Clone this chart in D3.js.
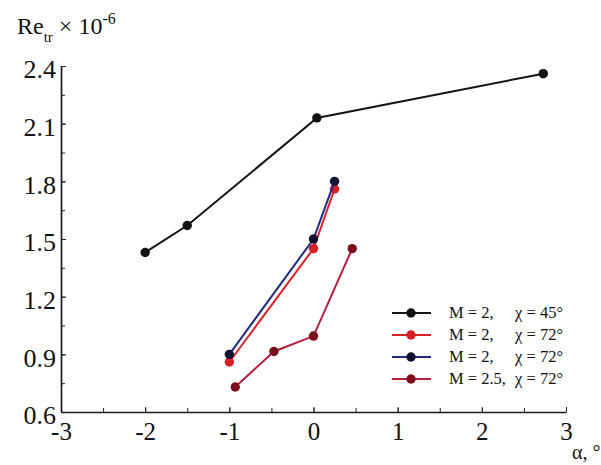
<!DOCTYPE html>
<html>
<head>
<meta charset="utf-8">
<script src="https://cdn.jsdelivr.net/npm/d3@7"></script>
<style>
  body { margin: 0; background: #fff; }
  svg text { font-family: "Liberation Serif", "Times New Roman", serif; }
</style>
</head>
<body>
<svg id="chart" width="601" height="465"></svg>
<script>
// data
var alphaM2X45 = [-2.0, -1.5, 0.04, 2.73]
var reM2X45 = [1.43, 1.57, 2.13, 2.36]
var alphaM2X72a = [-1.0, 0.0, 0.25]
var reM2X72a = [0.86, 1.45, 1.76]
var alphaM2X72b = [-1.0, 0.0, 0.25]
var reM2X72b = [0.90, 1.50, 1.80]
var alphaM25X72 = [-0.93, -0.47, 0.0, 0.46]
var reM25X72 = [0.73, 0.915, 0.995, 1.45]

var seriesLabelM = ["M = 2,", "M = 2,", "M = 2,", "M = 2.5,"]
var seriesLabelChi = ["χ = 45°", "χ = 72°", "χ = 72°", "χ = 72°"]
var xTicks = [-3, -2, -1, 0, 1, 2, 3]
var yTicks = [0.6, 0.9, 1.2, 1.5, 1.8, 2.1, 2.4]

var series = [
    { xs: alphaM2X45, ys: reM2X45, line: "#141414", dot: "#111" },
    { xs: alphaM2X72a, ys: reM2X72a, line: "#dc2229", dot: "#d81e26" },
    { xs: alphaM2X72b, ys: reM2X72b, line: "#1f2a80", dot: "#0f1330" },
    { xs: alphaM25X72, ys: reM25X72, line: "#b51d3c", dot: "#7c0d1d" }
]

var svg = d3.select("#chart")

var x = d3.scaleLinear().domain([-3, 3]).range([61, 566])
var y = d3.scaleLinear().domain([0.6, 2.4]).range([412, 66])

function styleLabels(size) {
    return function (g) {
        g.attr("font-family", "Liberation Serif").attr("font-size", size)
        g.selectAll("text")
            .attr("font-family", "Liberation Serif")
            .attr("font-size", size)
            .attr("fill", "#111")
    }
}

// minor ticks (no labels)
svg.append("g")
    .attr("transform", "translate(0,412)")
    .call(d3.axisBottom(x).tickValues(d3.range(-3, 3.01, 0.5)).tickSize(-4).tickSizeOuter(0).tickFormat(""))
    .call(g => g.select(".domain").remove())
svg.append("g")
    .attr("transform", "translate(61,0)")
    .call(d3.axisLeft(y).tickValues(d3.range(0.6, 2.41, 0.15)).tickSize(-4).tickSizeOuter(0).tickFormat(""))
    .call(g => g.select(".domain").remove())

// main axes
var xAxis = svg.append("g")
    .attr("transform", "translate(0,412)")
    .call(d3.axisBottom(x).tickValues(xTicks).tickSize(-5).tickSizeOuter(0).tickPadding(10).tickFormat(d => String(d)))
    .call(styleLabels(25))
var yAxis = svg.append("g")
    .attr("transform", "translate(61,0)")
    .call(d3.axisLeft(y).tickValues(yTicks).tickSize(-5).tickSizeOuter(0).tickPadding(5).tickFormat(d3.format(".1f")))
    .call(styleLabels(26))
yAxis.selectAll(".tick text").attr("dy", "0.45em")

svg.selectAll(".tick line").attr("stroke", "#222").attr("stroke-width", 1)
svg.selectAll(".domain").attr("stroke", "#1a1a1a").attr("stroke-width", 1.7)

// title
var title = svg.append("text")
    .attr("x", 17)
    .attr("y", 34)
    .style("font-size", "24px")
    .attr("fill", "#111")
title.append("tspan").text("Re")
title.append("tspan").style("font-size", "15px").attr("dy", 8).text("tr")
title.append("tspan").attr("dy", -8).text(" × 10")
title.append("tspan").style("font-size", "16px").attr("dy", -10).text("-6")

// x label
svg.append("text")
    .attr("x", 572)
    .attr("y", 459)
    .style("font-size", "20px")
    .attr("fill", "#111")
    .text("α, °")

// series
var line = d3.line().x(d => x(d[0])).y(d => y(d[1]))
series.forEach(function (s) {
    var pts = s.xs.map((v, i) => [v, s.ys[i]])
    svg.append("path")
        .datum(pts)
        .attr("d", line)
        .attr("fill", "none")
        .attr("stroke", s.line)
        .attr("stroke-width", 2)
    svg.selectAll(null)
        .data(pts)
        .enter().append("circle")
        .attr("cx", d => x(d[0]))
        .attr("cy", d => y(d[1]))
        .attr("r", 4.7)
        .attr("fill", s.dot)
})

// legend
var legend = svg.append("g").attr("transform", "translate(392,313)")
series.forEach(function (s, i) {
    var g = legend.append("g").attr("transform", "translate(0," + (i * 22) + ")")
    g.append("line").attr("x1", 0).attr("x2", 39).attr("stroke", s.line).attr("stroke-width", 2)
    g.append("circle").attr("cx", 19).attr("r", 4.7).attr("fill", s.dot)
    var t = g.append("text")
        .attr("y", 5)
        .style("font-size", "16.5px")
        .attr("fill", "#111")
    t.append("tspan").attr("x", 57).text(seriesLabelM[i])
    t.append("tspan").attr("x", 123).text(seriesLabelChi[i])
})
</script>
</body>
</html>
